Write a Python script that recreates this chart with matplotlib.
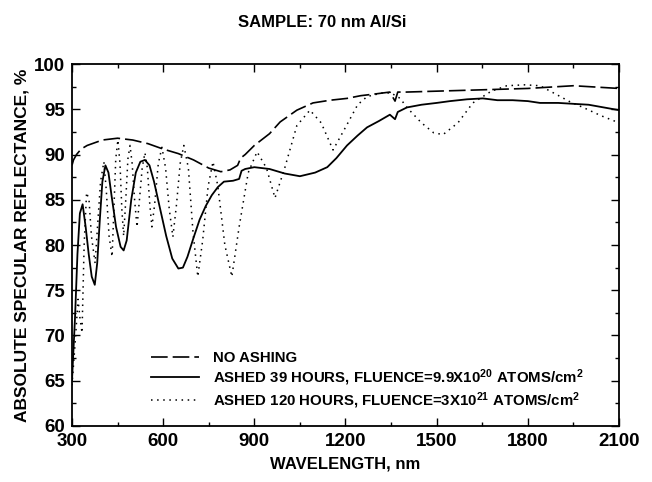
import matplotlib
matplotlib.use("Agg")
import matplotlib.pyplot as plt
from matplotlib.ticker import MultipleLocator

plt.rcParams['font.family'] = ['Liberation Sans', 'DejaVu Sans']
plt.rcParams['font.weight'] = 'bold'
plt.rcParams['mathtext.fontset'] = 'custom'
plt.rcParams['mathtext.bf'] = 'Liberation Sans:bold'
plt.rcParams['mathtext.rm'] = 'Liberation Sans:bold'
plt.rcParams['mathtext.default'] = 'bf'

# no ashing (dashed)
wl_none = [300, 305, 315, 330, 350, 400, 450, 500, 550, 600, 650, 700, 750, 790, 820,
           845, 855, 870, 900, 950, 985, 1040, 1093, 1150, 1205, 1250, 1300, 1346,
           1363, 1372, 1400, 1500, 1600, 1700, 1800, 1900, 1950, 2000, 2050, 2100]
r_none = [88.8, 89.4, 90.0, 90.6, 91.0, 91.6, 91.8, 91.6, 91.2, 90.6, 90.1, 89.4, 88.5, 88.1, 88.3,
          88.8, 89.6, 90.0, 91.0, 92.3, 93.6, 94.9, 95.7, 96.0, 96.2, 96.5, 96.7, 96.9,
          95.9, 96.9, 96.9, 97.0, 97.1, 97.2, 97.3, 97.5, 97.6, 97.5, 97.4, 97.3]

# ashed 39 hours (solid)
wl_39 = [300, 310, 318, 326, 335, 345, 355, 365, 375, 383, 392, 400, 410, 420, 430,
         445, 460, 470, 480, 495, 510, 525, 540, 555, 570, 590, 610, 630, 650, 665,
         680, 700, 720, 740, 760, 780, 800, 830, 850, 858, 870, 900, 950, 1000, 1050,
         1100, 1140, 1170, 1205, 1240, 1271, 1310, 1346, 1363, 1372, 1402, 1450, 1500,
         1544, 1600, 1652, 1700, 1750, 1800, 1840, 1900, 1950, 2000, 2050, 2100]
r_39 = [65.0, 72.0, 79.0, 83.5, 84.5, 82.0, 79.0, 76.5, 75.6, 78.0, 83.0, 87.0, 88.8, 88.0, 85.5,
        82.0, 79.8, 79.4, 80.5, 85.0, 88.0, 89.2, 89.4, 88.8, 87.0, 84.0, 81.0, 78.5, 77.4, 77.5,
        78.7, 80.8, 82.8, 84.3, 85.5, 86.4, 87.0, 87.1, 87.3, 88.2, 88.4, 88.6, 88.4, 87.9, 87.6,
        88.0, 88.6, 89.6, 91.0, 92.1, 93.0, 93.7, 94.4, 93.9, 94.7, 95.2, 95.5, 95.7,
        95.9, 96.1, 96.2, 96.0, 96.0, 95.9, 95.7, 95.7, 95.6, 95.5, 95.2, 94.9]

# ashed 120 hours (dotted)
wl_120 = [300, 310, 320, 326, 333, 340, 348, 356, 364, 376, 384, 394, 405, 413, 422,
          432, 438, 444, 451, 458, 464, 470, 477, 484, 491, 498, 506, 514, 522, 531,
          540, 548, 556, 563, 572, 584, 596, 608, 620, 632, 644, 656, 668, 683, 698,
          714, 730, 748, 764, 780, 803, 826, 850, 880, 909, 940, 968, 1000, 1040, 1083,
          1120, 1159, 1200, 1240, 1271, 1320, 1350, 1380, 1402, 1450, 1490, 1521, 1570,
          1619, 1680, 1731, 1790, 1840, 1896, 1940, 1982, 2040, 2100]
r_120 = [64.5, 69.0, 74.0, 72.0, 70.3, 80.0, 85.8, 85.0, 81.0, 78.0, 82.0, 87.0, 89.2, 86.0, 81.0,
         78.7, 84.0, 89.5, 91.6, 89.0, 84.0, 81.0, 85.0, 89.5, 91.0, 89.0, 85.0, 82.0, 85.0, 88.5,
         90.2, 88.5, 84.5, 82.0, 84.5, 89.0, 90.8, 88.5, 84.0, 80.9, 84.5, 89.0, 91.0, 88.5, 81.5,
         76.5, 80.5, 86.5, 89.2, 86.5, 80.0, 76.5, 82.0, 88.0, 90.3, 88.5, 85.2, 88.5, 93.2, 94.9,
         93.5, 90.5, 93.0, 95.5, 96.4, 96.8, 96.8, 96.2, 95.2, 93.5, 92.4, 92.2, 93.5,
         95.7, 97.0, 97.6, 97.7, 97.6, 96.6, 95.8, 95.2, 94.3, 93.5]

labels = ['NO ASHING',
          'ASHED 39 HOURS, FLUENCE=9.9X10$^{20}$ ATOMS/cm$^{2}$',
          'ASHED 120 HOURS, FLUENCE=3X10$^{21}$ ATOMS/cm$^{2}$']

fig = plt.figure(figsize=(6.52, 4.82), dpi=100)
ax = fig.add_axes([0.1104, 0.1162, 0.839, 0.751])

ax.plot(wl_none, r_none, color='black', lw=1.2, linestyle=(0, (10, 3)), label=labels[0])
ax.plot(wl_39, r_39, color='black', lw=1.3, label=labels[1])
ax.plot(wl_120, r_120, color='black', lw=1.1, linestyle=(0, (1, 3)), label=labels[2])

ax.set_xlim(300, 2100)
ax.set_ylim(60, 100)
ax.xaxis.set_major_locator(MultipleLocator(300))
ax.xaxis.set_minor_locator(MultipleLocator(150))
ax.yaxis.set_major_locator(MultipleLocator(5))
ax.yaxis.set_minor_locator(MultipleLocator(2.5))
ax.tick_params(which='both', direction='in', top=True, right=True, width=1)
ax.tick_params(which='major', length=6, labelsize=13.5, pad=5)
ax.tick_params(which='minor', length=3)
for s in ax.spines.values():
    s.set_linewidth(1.3)

ax.set_xlabel('WAVELENGTH, nm', fontsize=12, fontweight='bold', labelpad=5)
ax.set_ylabel('ABSOLUTE SPECULAR REFLECTANCE, %', fontsize=12.5, fontweight='bold', labelpad=3)
fig.text(0.494, 0.954, 'SAMPLE: 70 nm Al/Si', ha='center', va='center', fontsize=12, fontweight='bold')

leg = ax.legend(loc='lower left', bbox_to_anchor=(0.12, 0.005), frameon=False,
                handlelength=3.2, handletextpad=0.9, labelspacing=0.15, fontsize=10.8)

fig.savefig('out.png', dpi=100)
